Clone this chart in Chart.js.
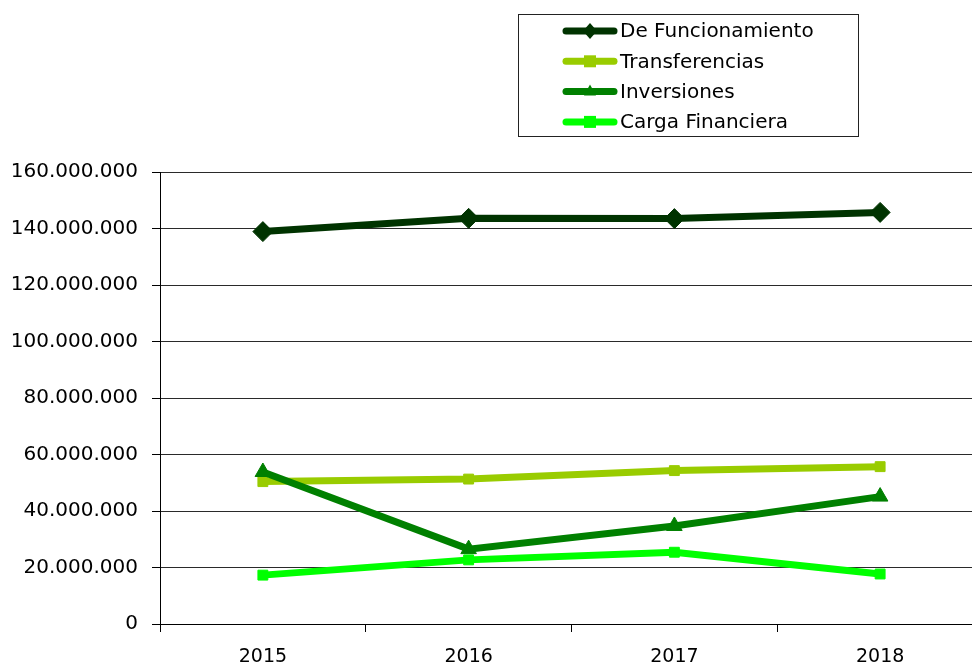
<!DOCTYPE html>
<html>
<head>
<meta charset="utf-8">
<script src="https://cdn.jsdelivr.net/npm/chart.js"></script>
<style>
  html, body { margin: 0; padding: 0; background: #fff; overflow: hidden; }
  #wrap { width: 994px; height: 666px; }
</style>
</head>
<body>
<div id="wrap"><canvas id="gastos" width="994" height="666"></canvas></div>
<script>
const years = ["2015", "2016", "2017", "2018"];

const funcionamiento = [138900000, 143600000, 143500000, 145700000];
const transferencias = [50400000, 51300000, 54300000, 55700000];
const inversiones = [53800000, 26500000, 34700000, 45100000];
const cargaFinanciera = [17300000, 22700000, 25400000, 17700000];

const seriesNames = ["De Funcionamiento", "Transferencias", "Inversiones", "Carga Financiera"];
const seriesColors = ["#003300", "#99cc00", "#008000", "#00ff00"];

const yTicksMax = 160000000;
const yTicksStep = 20000000;

// thousands with dots, like the original sheet
const fmt = v => String(v).replace(/\B(?=(\d{3})+(?!\d))/g, ".");

// legend in a bordered box, drawn by hand
const boxLegend = {
  id: "boxLegend",
  afterDraw(chart) {
    const ctx = chart.ctx;
    const left = 518, top = 14, w = 340, h = 122;
    ctx.save();
    ctx.strokeStyle = "#222";
    ctx.lineWidth = 1;
    ctx.strokeRect(left + 0.5, top + 0.5, w, h);
    ctx.font = "20px 'DejaVu Sans'";
    ctx.textBaseline = "middle";
    chart.data.datasets.forEach((ds, i) => {
      const y = 31 + i * 30.3;
      ctx.strokeStyle = ds.borderColor;
      ctx.lineWidth = 7;
      ctx.lineCap = "round";
      ctx.beginPath();
      ctx.moveTo(566, y);
      ctx.lineTo(614, y);
      ctx.stroke();
      ctx.fillStyle = ds.borderColor;
      ctx.beginPath();
      if (ds.pointStyle === "rectRot") {
        ctx.moveTo(590, y - 8); ctx.lineTo(597, y); ctx.lineTo(590, y + 8); ctx.lineTo(583, y);
      } else if (ds.pointStyle === "triangle") {
        ctx.moveTo(590, y - 7); ctx.lineTo(596, y + 4); ctx.lineTo(584, y + 4);
      } else {
        ctx.rect(584, y - 6, 12, 12);
      }
      ctx.closePath();
      ctx.fill();
      ctx.fillStyle = "#000";
      ctx.fillText(ds.label, 620, y + 1);
    });
    ctx.restore();
  }
};

const mk = (i, data, style, radius, order) => ({
  label: seriesNames[i],
  data: data,
  borderColor: seriesColors[i],
  backgroundColor: seriesColors[i],
  pointBackgroundColor: seriesColors[i],
  pointBorderColor: seriesColors[i],
  pointBorderWidth: 1,
  borderWidth: 7,
  pointStyle: style,
  pointRadius: radius,
  tension: 0,
  fill: false,
  order: order
});

new Chart(document.getElementById("gastos"), {
  type: "line",
  data: {
    labels: years,
    datasets: [
      mk(0, funcionamiento, "rectRot", 10, 4),
      mk(1, transferencias, "rect", 7, 3),
      mk(2, inversiones, "triangle", 9, 2),
      mk(3, cargaFinanciera, "rect", 7, 1)
    ]
  },
  options: {
    responsive: false,
    animation: false,
    layout: { padding: { top: 172, left: 0, right: 0, bottom: 0 } },
    plugins: {
      legend: { display: false },
      tooltip: { enabled: false },
      title: { display: false }
    },
    scales: {
      x: {
        offset: true,
        afterFit(scale) { scale.height = 42; },
        grid: {
          offset: true,
          drawOnChartArea: false,
          drawTicks: true,
          tickLength: 8,
          tickColor: "#000"
        },
        border: { color: "#000", width: 1 },
        ticks: {
          color: "#000",
          padding: 14,
          font: { family: "'DejaVu Sans'", size: 19 }
        }
      },
      y: {
        min: 0,
        max: yTicksMax,
        afterFit(scale) { scale.width = 160; },
        grid: {
          color: "#2a2a2a",
          lineWidth: 1,
          drawTicks: true,
          tickLength: 8,
          tickColor: "#000"
        },
        border: { color: "#000", width: 1 },
        ticks: {
          stepSize: yTicksStep,
          color: "#000",
          padding: 14,
          font: { family: "'DejaVu Sans'", size: 20 },
          callback: v => fmt(v)
        }
      }
    }
  },
  plugins: [boxLegend]
});
</script>
</body>
</html>
